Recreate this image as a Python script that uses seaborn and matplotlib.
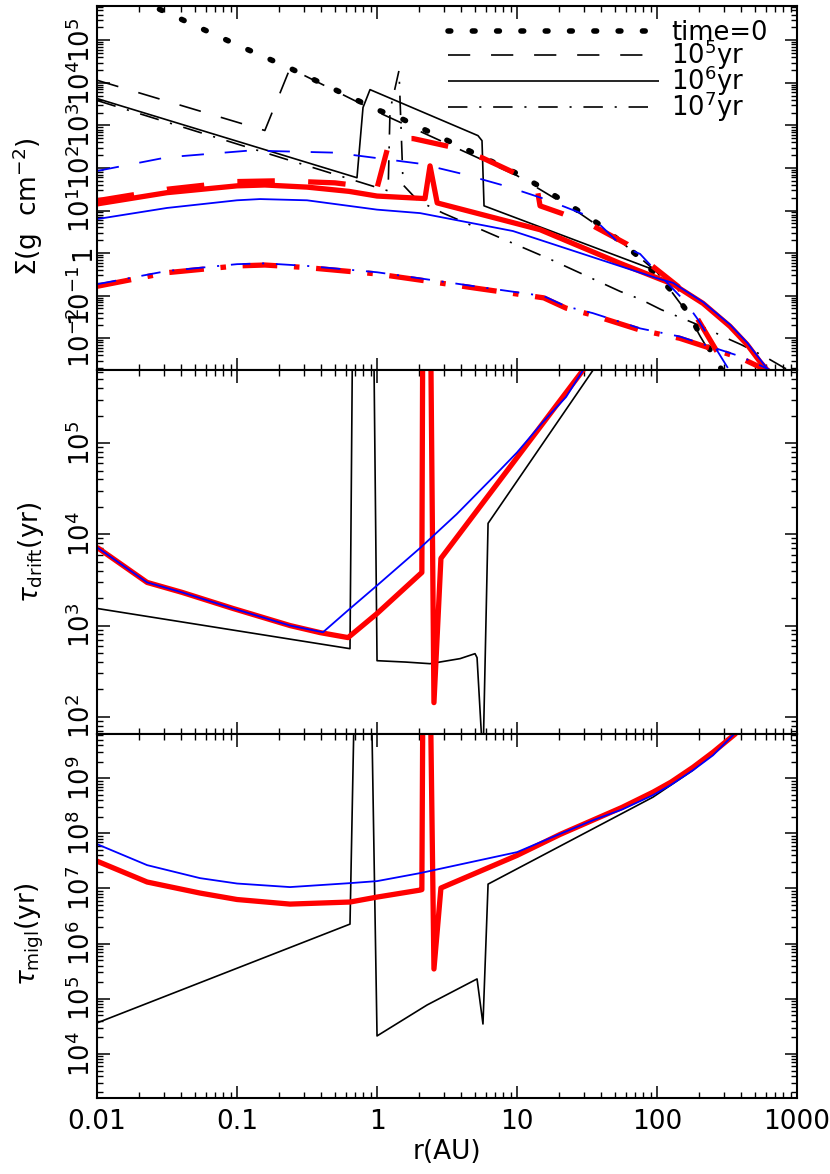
import numpy as np
import matplotlib
matplotlib.use('Agg')
import matplotlib.pyplot as plt
from matplotlib.ticker import LogLocator, NullFormatter
import seaborn as sns

# ---- surface density panel (r in AU, sigma in g cm^-2) ----
r_gas0 = [0.01, 0.0259, 0.1, 0.239, 1.0, 1.535, 10, 15.8, 28.2, 39.2, 73.1, 130, 166, 203, 251, 320]
sig_gas0 = [2.57e6, 6.0e5, 7.8e4, 2.2e4, 2340, 1380, 74, 31.6, 9.3, 4.6, 0.85, 0.12, 0.041, 0.0123, 0.0042, 0.001]

r_gas5 = [0.01, 0.158, 0.239, 1.0, 10, 28.2, 56.2, 100, 130, 166, 203, 251]
sig_gas5 = [1.15e4, 759, 2.19e4, 2090, 66, 8.5, 1.78, 0.355, 0.112, 0.038, 0.0112, 0.0035]

r_gas6 = [0.01, 0.719, 0.794, 0.891, 5.26, 5.62, 5.81, 100, 130, 213, 332, 440, 544, 620]
sig_gas6 = [4270, 59, 2630, 6920, 575, 437, 12.9, 0.38, 0.178, 0.063, 0.0182, 0.0068, 0.0027, 0.0016]

r_gas7 = [0.01, 0.968, 1.2, 1.238, 1.435, 1.535, 1.96, 2.96, 7.94, 17.2, 54.5, 75.7, 107, 151,
          219, 295, 398, 589, 813, 1000]
sig_gas7 = [3850, 36, 29, 2240, 1.95e4, 40, 17, 8.7, 2.14, 0.72, 0.126, 0.083, 0.047, 0.0295,
            0.0178, 0.011, 0.0071, 0.0037, 0.002, 0.0015]

r_blue5 = [0.01, 0.0316, 0.124, 0.5, 2.03, 4.11, 8.2, 15.8, 29.6, 39.2, 56.2, 75.7, 100, 158, 196, 332]
sig_blue5 = [85, 178, 257, 229, 126, 72, 38, 18.6, 8.3, 4.6, 1.46, 0.955, 0.355, 0.074, 0.0275, 0.00166]

r_blue6 = [0.01, 0.0316, 0.1, 0.146, 0.316, 1.0, 2.03, 9.35, 100, 130, 213, 332, 440, 544, 640, 700]
sig_blue6 = [6.3, 11.5, 17.4, 18.6, 17.4, 10.5, 8.7, 3.3, 0.257, 0.2, 0.071, 0.021, 0.0079, 0.0032, 0.0016, 0.001]

r_blue7 = [0.01, 0.0316, 0.1, 0.158, 0.316, 1.0, 2.0, 5.0, 15.5, 22.4, 34.7, 75.9, 145, 398, 676, 1000]
sig_blue7 = [0.186, 0.38, 0.55, 0.575, 0.5, 0.355, 0.257, 0.166, 0.098, 0.056, 0.039, 0.017, 0.011,
             0.0037, 0.00166, 0.001]

r_red5 = [0.01, 0.0316, 0.1, 0.2, 0.5, 1.0, 1.24, 1.81, 3.32, 5.62, 10, 13.9, 14.6, 21.4, 34.9,
          61.1, 89.1, 141, 196, 273, 320]
sig_red5 = [17, 31.6, 47.9, 50, 44.7, 33.9, 490, 490, 316, 174, 72, 33.9, 12.9, 8.3, 4.37,
            1.62, 0.55, 0.166, 0.0275, 0.0044, 0.00126]

r_red6 = [0.01, 0.0316, 0.1, 0.158, 0.316, 0.631, 1.0, 2.2, 2.39, 2.69, 14.6, 54.5, 130, 213,
          332, 440, 544, 611, 700]
sig_red6 = [14.3, 26.3, 38, 39.8, 35.5, 28.2, 21.9, 19.1, 112, 15.1, 3.55, 0.575, 0.186, 0.066,
            0.019, 0.0071, 0.0028, 0.0018, 0.001]

r_red7 = [0.01, 0.0316, 0.1, 0.158, 0.316, 1.0, 2.0, 5.0, 15.5, 22.4, 34.7, 75.9, 145, 398, 676, 1000]
sig_red7 = [0.166, 0.347, 0.50, 0.525, 0.457, 0.324, 0.234, 0.151, 0.089, 0.051, 0.035, 0.0155,
            0.01, 0.0034, 0.0015, 0.00091]

# ---- radial drift timescale (yr) ----
r_drift_k = [0.01, 0.641, 0.675, 0.935, 1.0, 1.6, 2.39, 3.92, 5.01, 5.18, 5.71, 6.21, 34.9, 40]
t_drift_k = [1540, 558, 1e7, 1e7, 412, 398, 382, 434, 492, 445, 32, 1.32e4, 6.3e5, 8.5e5]

r_drift_r = [0.01, 0.0228, 0.0405, 0.0935, 0.239, 0.392, 0.621, 1.0, 2.09, 2.13, 2.39, 2.55,
             2.86, 29.6, 35]
t_drift_r = [7200, 2970, 2310, 1540, 1000, 837, 738, 1355, 3820, 1e7, 1e7, 143, 5450, 6.3e5, 8.9e5]

r_drift_b = [0.01, 0.0228, 0.0405, 0.0935, 0.239, 0.411, 0.621, 1.0, 2.03, 3.7, 6.75, 10,
             15.3, 22.4, 29.6, 35]
t_drift_b = [7200, 2970, 2310, 1540, 1000, 845, 1470, 2750, 7080, 1.66e4, 4.23e4, 7.9e4,
             1.70e5, 3.2e5, 6.3e5, 8.9e5]

# ---- migration timescale (yr) ----
r_migl_k = [0.01, 0.641, 0.708, 0.891, 1.0, 2.28, 5.18, 5.71, 6.21, 93.5, 181, 349, 400]
t_migl_k = [3.65e4, 2.26e6, 1e12, 1e12, 2.12e4, 7.73e4, 2.29e5, 3.49e4, 1.20e7, 4.53e8,
            1.40e9, 6.03e9, 8.9e9]

r_migl_b = [0.01, 0.0228, 0.0544, 0.1, 0.239, 0.641, 1.0, 2.03, 10, 17.8, 34.9, 56.2, 93.5,
            126, 181, 251, 349, 400]
t_migl_b = [6.37e7, 2.65e7, 1.54e7, 1.23e7, 1.06e7, 1.25e7, 1.36e7, 1.90e7, 4.56e7, 8.5e7,
            1.73e8, 2.7e8, 4.92e8, 7.6e8, 1.40e9, 2.6e9, 6.03e9, 8.9e9]

r_migl_r = [0.01, 0.0228, 0.0544, 0.1, 0.239, 0.641, 1.0, 2.03, 2.09, 2.13, 2.39, 2.55, 2.86,
            10, 20.3, 56.2, 93.5, 126, 181, 251, 361, 400]
t_migl_r = [3.13e7, 1.31e7, 8.26e6, 6.31e6, 5.21e6, 5.68e6, 6.98e6, 9.35e6, 9.55e6, 1e11, 1e11,
            3.47e5, 1.02e7, 3.98e7, 9.55e7, 2.95e8, 5.57e8, 8.5e8, 1.58e9, 2.95e9, 6.31e9, 8.9e9]

# ticks
x_ticks = [0.01, 0.1, 1, 10, 100, 1000]
x_ticklabels = ['0.01', '0.1', '1', '10', '100', '1000']
sig_ticks = [1e-2, 1e-1, 1, 1e1, 1e2, 1e3, 1e4, 1e5]
sig_ticklabels = [r'$10^{-2}$', r'$10^{-1}$', '1', r'$10^1$', r'$10^2$', r'$10^3$', r'$10^4$', r'$10^5$']
drift_ticks = [1e2, 1e3, 1e4, 1e5]
drift_ticklabels = [r'$10^2$', r'$10^3$', r'$10^4$', r'$10^5$']
migl_ticks = [1e4, 1e5, 1e6, 1e7, 1e8, 1e9]
migl_ticklabels = [r'$10^4$', r'$10^5$', r'$10^6$', r'$10^7$', r'$10^8$', r'$10^9$']
time_labels = ['time=0', r'$10^5$yr', r'$10^6$yr', r'$10^7$yr']

sns.set_style('ticks')
plt.rcParams['font.family'] = ['DejaVu Sans']
plt.rcParams['mathtext.fontset'] = 'dejavusans'
plt.rcParams['lines.scale_dashes'] = False
for key in ('text.color', 'axes.labelcolor', 'xtick.color', 'ytick.color', 'axes.edgecolor'):
    plt.rcParams[key] = 'black'

DOT = (0, (2, 15.5))
DASH = (0, (16, 15))
DASH_THICK = (0, (27, 24))
DDOT = (0, (14, 8.5, 1.5, 8.5))
DDOT_THICK = (0, (25, 12, 4, 12))

fig = plt.figure(figsize=(8.3, 11.74), dpi=100)
ax1 = fig.add_axes([0.1169, 0.6847, 0.8434, 0.31])
ax2 = fig.add_axes([0.1169, 0.3747, 0.8434, 0.31])
ax3 = fig.add_axes([0.1169, 0.0647, 0.8434, 0.31])
for ax in (ax1, ax2, ax3):
    ax.set_xscale('log')
    ax.set_yscale('log')


def draw(ax, r, v, color, lw, ls, cap='butt'):
    sns.lineplot(x=r, y=v, ax=ax, color=color, linewidth=lw, linestyle=ls,
                 estimator=None, sort=False, legend=False,
                 dash_capstyle=cap, solid_capstyle='butt')
    return ax.lines[-1]


# top panel
h0 = draw(ax1, r_gas0, sig_gas0, 'black', 4.0, DOT, cap='round')
h5 = draw(ax1, r_gas5, sig_gas5, 'black', 1.2, DASH)
h6 = draw(ax1, r_gas6, sig_gas6, 'black', 1.2, '-')
h7 = draw(ax1, r_gas7, sig_gas7, 'black', 1.2, DDOT)
draw(ax1, r_red5, sig_red5, 'red', 3.8, DASH_THICK)
draw(ax1, r_red6, sig_red6, 'red', 3.8, '-')
draw(ax1, r_red7, sig_red7, 'red', 3.8, DDOT_THICK)
draw(ax1, r_blue5, sig_blue5, 'blue', 1.3, DASH)
draw(ax1, r_blue6, sig_blue6, 'blue', 1.3, '-')
draw(ax1, r_blue7, sig_blue7, 'blue', 1.3, DDOT)

# middle panel
draw(ax2, r_drift_k, t_drift_k, 'black', 1.2, '-')
draw(ax2, r_drift_r, t_drift_r, 'red', 3.8, '-')
draw(ax2, r_drift_b, t_drift_b, 'blue', 1.3, '-')

# bottom panel
draw(ax3, r_migl_k, t_migl_k, 'black', 1.2, '-')
draw(ax3, r_migl_r, t_migl_r, 'red', 3.8, '-')
draw(ax3, r_migl_b, t_migl_b, 'blue', 1.3, '-')

ax1.set_ylim(1.78e-3, 6.3e5)
ax2.set_ylim(64.6, 6.3e5)
ax3.set_ylim(1585, 6.3e9)

for ax, yt, ytl in ((ax1, sig_ticks, sig_ticklabels),
                    (ax2, drift_ticks, drift_ticklabels),
                    (ax3, migl_ticks, migl_ticklabels)):
    ax.set_xlim(0.01, 1000)
    ax.set_xticks(x_ticks)
    ax.xaxis.set_minor_locator(LogLocator(base=10, subs=np.arange(2, 10), numticks=100))
    ax.xaxis.set_minor_formatter(NullFormatter())
    ax.set_yticks(yt, ytl)
    ax.yaxis.set_minor_locator(LogLocator(base=10, subs=np.arange(2, 10), numticks=100))
    ax.yaxis.set_minor_formatter(NullFormatter())
    ax.tick_params(which='both', direction='in', top=True, right=True, color='black')
    ax.tick_params(which='major', length=9, width=1.1)
    ax.tick_params(which='minor', length=4.5, width=1.0)
    ax.tick_params(axis='y', labelrotation=90, labelsize=18.5, pad=1)
    ax.tick_params(axis='x', labelsize=19, pad=8)
    for lab in ax.get_yticklabels():
        lab.set_va('center')
    for sp in ax.spines.values():
        sp.set_linewidth(1.5)

ax1.set_xticklabels([])
ax2.set_xticklabels([])
ax3.set_xticklabels(x_ticklabels)

ax1.set_ylabel(r'$\Sigma$(g  cm$^{-2}$)', fontsize=19)
ax2.set_ylabel(r'$\tau_{\rm drift}$(yr)', fontsize=19)
ax3.set_ylabel(r'$\tau_{\rm migl}$(yr)', fontsize=19)
ax1.yaxis.set_label_coords(-0.075, 0.45)
ax2.yaxis.set_label_coords(-0.073, 0.5)
ax3.yaxis.set_label_coords(-0.073, 0.45)
ax3.set_xlabel('r(AU)', fontsize=19, labelpad=3)

ax1.legend(handles=[h0, h5, h6, h7], labels=time_labels, loc='upper right',
           bbox_to_anchor=(0.973, 0.99), frameon=False, fontsize=18.5,
           handlelength=8.2, handletextpad=0.5, labelspacing=-0.33,
           borderaxespad=0.2, borderpad=0.2)

fig.savefig('out.png', dpi=100)
